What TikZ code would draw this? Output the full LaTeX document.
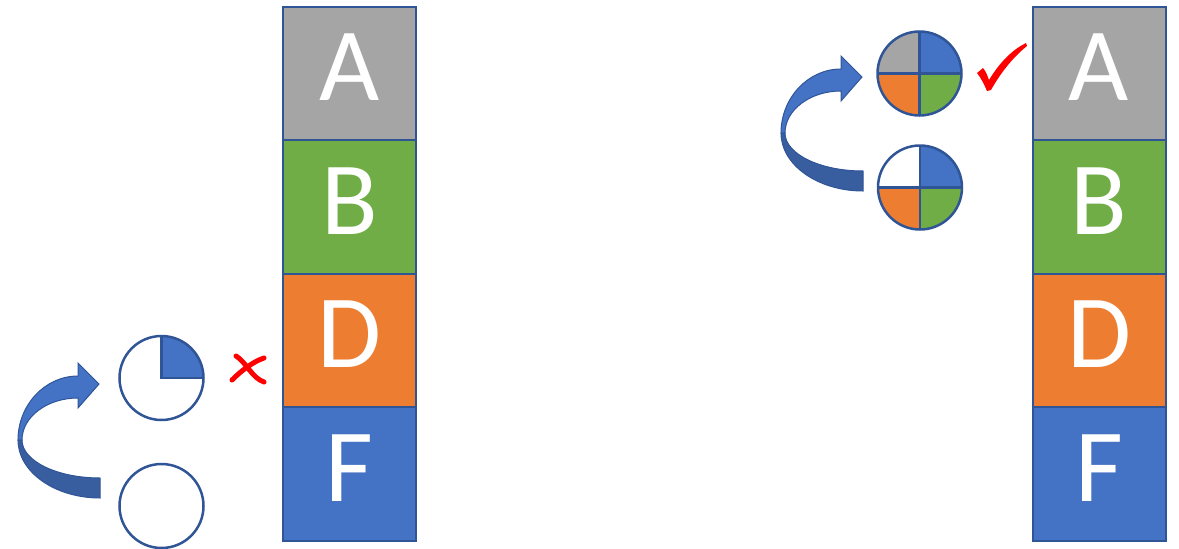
\documentclass[tikz,border=0pt]{standalone}
\usepackage{fontspec}
\newfontfamily\letterfont{Carlito}
\usetikzlibrary{calc}
\definecolor{cgray}{HTML}{A5A5A5}
\definecolor{cgreen}{HTML}{70AD47}
\definecolor{corange}{HTML}{ED7D31}
\definecolor{cblue}{HTML}{4472C4}
\definecolor{cedge}{HTML}{2F5597}
\definecolor{cdark}{HTML}{395E9F}
\tikzset{
  blk/.style={rectangle, draw=cedge, line width=2pt, minimum width=133, minimum height=133.5, inner sep=0pt},
  letter/.style={anchor=base, text=white, font=\letterfont\fontsize{104}{104}\selectfont, inner sep=0pt},
  pie/.style={circle, draw=cedge, line width=2.5pt, minimum size=84, inner sep=0pt},
  split/.style={draw=cedge, line width=2.5pt},
  redstroke/.style={red, line width=5pt, line cap=round},
  bentarrow/.pic={
    % underside of the ribbon
    \filldraw[fill=cdark, draw=cedge, line width=1pt]
      (1,114) .. controls (-44,114) and (-81,88) .. (-81,56)
      -- (-77,56) .. controls (-77,77) and (-42,94) .. (1,94) -- cycle;
    % top side of the ribbon with the head
    \filldraw[fill=cblue, draw=cedge, line width=1pt]
      (-81,56) .. controls (-81,21) and (-54,-8) .. (-21,-8)
      -- (-21,-21) -- (0,0) -- (-21,24) -- (-21,14)
      .. controls (-52,14) and (-77,33) .. (-77,56) -- cycle;
  }
}
\begin{document}
\begin{tikzpicture}[x=1pt, y=-1pt]
\useasboundingbox (0,0) rectangle (1179,549);

% left stack
\node[blk, fill=cgray]   (la) at (349.5, 73.25) {};
\node[blk, fill=cgreen]  (lb) at (349.5, 206.75) {};
\node[blk, fill=corange] (ld) at (349.5, 340.25) {};
\node[blk, fill=cblue]   (lf) at (349.5, 473.75) {};
\node[letter] (tla) at ($(la.north)+(0,95)$) {A};
\node[letter] (tlb) at ($(lb.north)+(0,95)$) {B};
\node[letter] (tld) at ($(ld.north)+(0,95)$) {D};
\node[letter] (tlf) at ($(lf.north)+(0,95)$) {F};

% right stack
\node[blk, fill=cgray]   (ra) at (1099, 73.25) {};
\node[blk, fill=cgreen]  (rb) at (1099, 206.75) {};
\node[blk, fill=corange] (rd) at (1099, 340.25) {};
\node[blk, fill=cblue]   (rf) at (1099, 473.75) {};
\node[letter] (tra) at ($(ra.north)+(0,95)$) {A};
\node[letter] (trb) at ($(rb.north)+(0,95)$) {B};
\node[letter] (trd) at ($(rd.north)+(0,95)$) {D};
\node[letter] (trf) at ($(rf.north)+(0,95)$) {F};

% left pies: one quarter, then empty
\coordinate (p1) at (161.5, 378);
\coordinate (p2) at (161.5, 506);
\fill[cblue] (p1) -- ++(42,0) arc[start angle=0, end angle=-90, radius=42] -- cycle;
\draw[split] ($(p1)+(42,0)$) -- (p1) -- ($(p1)+(0,-42)$);
\node[pie] (c1) at (p1) {};
\node[pie] (c2) at (p2) {};

% right pies: full, then three quarters
\coordinate (p3) at (919.5, 73.5);
\coordinate (p4) at (920, 187.5);
\fill[cblue]   (p3) -- ++(42,0) arc[start angle=0, end angle=-90, radius=42] -- cycle;
\fill[cgray]   (p3) -- ++(0,-42) arc[start angle=-90, end angle=-180, radius=42] -- cycle;
\fill[corange] (p3) -- ++(-42,0) arc[start angle=180, end angle=90, radius=42] -- cycle;
\fill[cgreen]  (p3) -- ++(0,42) arc[start angle=90, end angle=0, radius=42] -- cycle;
\draw[split] ($(p3)+(-42,0)$) -- ($(p3)+(42,0)$) ($(p3)+(0,-42)$) -- ($(p3)+(0,42)$);
\fill[cblue]   (p4) -- ++(42,0) arc[start angle=0, end angle=-90, radius=42] -- cycle;
\fill[corange] (p4) -- ++(-42,0) arc[start angle=180, end angle=90, radius=42] -- cycle;
\fill[cgreen]  (p4) -- ++(0,42) arc[start angle=90, end angle=0, radius=42] -- cycle;
\draw[split] ($(p4)+(-42,0)$) -- ($(p4)+(42,0)$) ($(p4)+(0,-42)$) -- ($(p4)+(0,42)$);
\node[pie] (c3) at (p3) {};
\node[pie] (c4) at (p4) {};

% curved arrows
\pic at (99,384) {bentarrow};
\pic at (862,77) {bentarrow};

% red cross
\draw[redstroke] (236,356) .. controls (246,362) and (252,378) .. (264,382);
\draw[redstroke] (264,358) .. controls (252,362) and (240,372) .. (232,380);

% red tick
\fill[red] (977,73) -- (983,68) .. controls (986,72) .. (989,80)
  .. controls (1000,62) and (1012,50) .. (1026,43) -- (1027,46)
  .. controls (1012,58) and (1000,74) .. (991,90) -- (987,91)
  .. controls (984,84) and (981,78) .. (977,73) -- cycle;
\end{tikzpicture}
\end{document}
